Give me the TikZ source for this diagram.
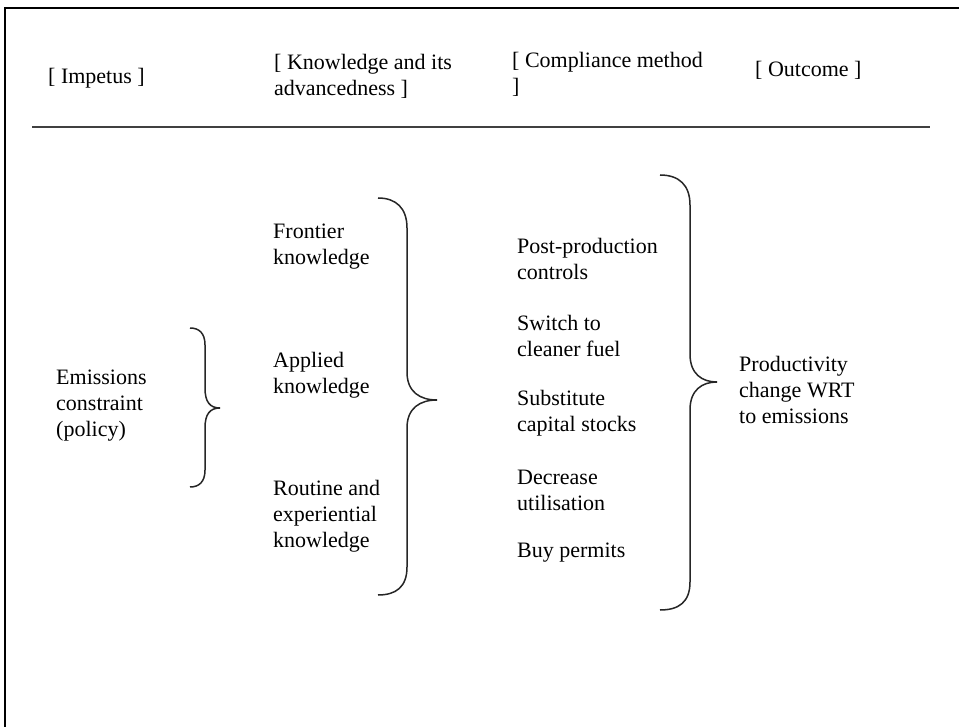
\documentclass[tikz,border=0pt]{standalone}
\usepackage{fontspec}
\setmainfont{Liberation Serif}
\tikzset{
  txt/.style={anchor=west, align=left, inner sep=0pt, font=\fontsize{22}{26}\selectfont},
  bracestyle/.style={draw=black!85, line width=1.5pt},
  framestyle/.style={draw=black, line width=2.4pt},
  rulestyle/.style={draw=black!75, line width=2pt}
}
\begin{document}
\begin{tikzpicture}[x=1pt,y=-1pt]
\useasboundingbox (0,0) rectangle (959,727);
\fill[white] (0,0) rectangle (959,727);
% frame
\draw[framestyle] (5,740) -- (5,8) -- (970,8);
% headers
\node[txt] (h1) at (48,78) {[ Impetus ]};
\node[txt] (h2) at (274,76) {[ Knowledge and its\\advancedness ]};
\node[txt] (h3) at (512,74) {[ Compliance method\\]};
\node[txt] (h4) at (755,70) {[ Outcome ]};
\coordinate (rl) at (32,127);
\coordinate (rr) at (930,127);
\draw[rulestyle] (rl) -- (rr);
% column 1
\node[txt] (emis) at (56,406) {Emissions\\constraint\\(policy)};
% column 2
\node[txt] (front) at (273,247) {Frontier\\knowledge};
\node[txt] (appl) at (273,375) {Applied\\knowledge};
\node[txt] (rout) at (273,516) {Routine and\\experiential\\knowledge};
% column 3
\node[txt] (post) at (517,259) {Post-production\\controls};
\node[txt] (switch) at (517,336) {Switch to\\cleaner fuel};
\node[txt] (subst) at (517,413) {Substitute\\capital stocks};
\node[txt] (decr) at (517,490) {Decrease\\utilisation};
\node[txt] (buy) at (517,553) {Buy permits};
% column 4
\node[txt] (prod) at (739,390) {Productivity\\change WRT\\to emissions};
% braces
\draw[bracestyle] (190,328) .. controls (199,328) and (205,333) .. (205,345)
  -- (205,388) .. controls (205,402) and (210,408) .. (220,408)
  .. controls (210,408) and (205,414) .. (205,428)
  -- (205,470) .. controls (205,482) and (199,487) .. (190,487);
\draw[bracestyle] (378,198) .. controls (396,198) and (407,208) .. (407,228)
  -- (407,372) .. controls (407,392) and (420,400) .. (437,400)
  .. controls (420,400) and (407,408) .. (407,428)
  -- (407,567) .. controls (407,587) and (396,595) .. (378,595);
\draw[bracestyle] (660,175) .. controls (679,175) and (690,185) .. (690,205)
  -- (690,354) .. controls (690,374) and (702,382) .. (717,382)
  .. controls (702,382) and (690,390) .. (690,410)
  -- (690,582) .. controls (690,602) and (679,610) .. (660,610);
\end{tikzpicture}
\end{document}
